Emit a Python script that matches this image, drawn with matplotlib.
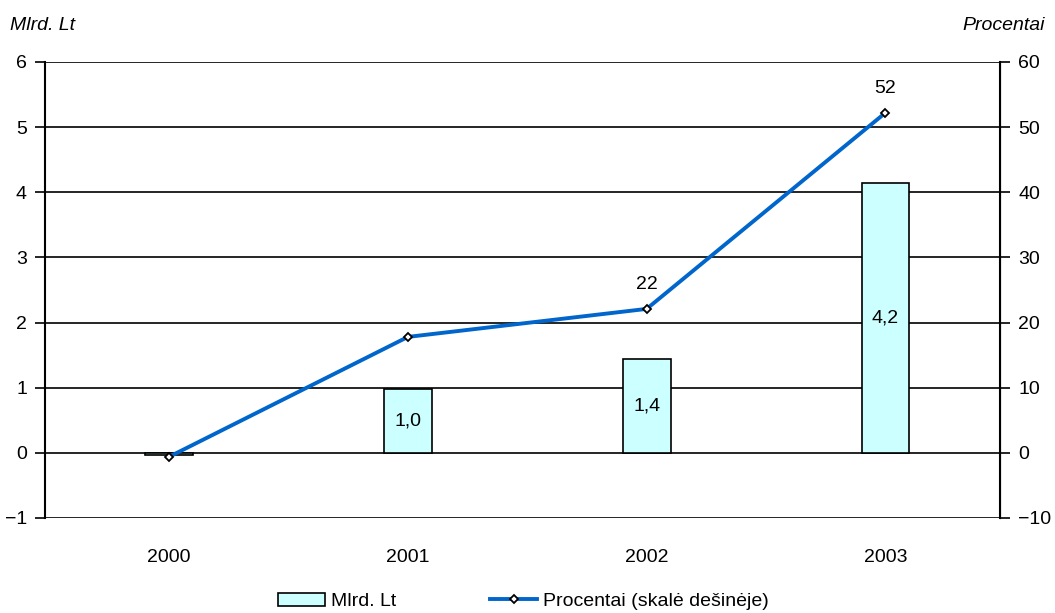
import matplotlib
matplotlib.use("Agg")
import matplotlib.pyplot as plt
from matplotlib.lines import Line2D
from matplotlib.patches import Patch

plt.rcParams['font.family'] = ['Liberation Sans', 'DejaVu Sans']
plt.rcParams['axes.unicode_minus'] = True

years = ["2000", "2001", "2002", "2003"]
mlrd_lt = [-0.03, 0.98, 1.44, 4.15]
bar_labels = ["", "1,0", "1,4", "4,2"]
percent = [-0.6, 17.8, 22.1, 52.2]
line_labels = ["", "", "22", "52"]
left_ticks = [-1, 0, 1, 2, 3, 4, 5, 6]
right_ticks = [-10, 0, 10, 20, 30, 40, 50, 60]

FS = 14

fig = plt.figure(figsize=(10.55, 6.13), dpi=100)
ax = fig.add_axes([45/1055, 1-518/613, (1000-45)/1055, (518-62)/613])
x = list(range(len(years)))

for t in left_ticks:
    ax.axhline(t, color='black', lw=1.2, zorder=1)

ax.bar(x, mlrd_lt, width=0.2, color='#CCFFFF', edgecolor='black', linewidth=1.2, zorder=2)
for xi, v, lab in zip(x, mlrd_lt, bar_labels):
    if lab:
        ax.text(xi, v/2, lab, ha='center', va='center', fontsize=FS, zorder=5)

ax.set_xlim(-0.52, 3.48)
ax.set_ylim(-1, 6)
ax.set_yticks(left_ticks)
ax.set_yticklabels([str(t).replace('-', '\u2212') for t in left_ticks], fontsize=FS)
ax.set_xticks(x)
ax.set_xticklabels(years, fontsize=FS)
ax.tick_params(axis='x', length=0, pad=22)
ax.tick_params(axis='y', direction='out', length=7, width=1.2, pad=6)
for s in ['top', 'bottom']:
    ax.spines[s].set_visible(False)
ax.spines['left'].set_linewidth(1.5)

ax2 = ax.twinx()
ax2.set_ylim(-10, 60)
ax2.set_yticks(right_ticks)
ax2.set_yticklabels([str(t).replace('-', '\u2212') for t in right_ticks], fontsize=FS)
ax2.tick_params(axis='y', direction='out', length=7, width=1.2, pad=6)
for s in ['top', 'bottom', 'left']:
    ax2.spines[s].set_visible(False)
ax2.spines['right'].set_linewidth(1.5)
ax2.plot(x, percent, color='#0066CC', lw=2.8, marker='D', markersize=4.5,
         markerfacecolor='white', markeredgecolor='black', markeredgewidth=1.3, zorder=4)
for xi, v, lab in zip(x, percent, line_labels):
    if lab:
        ax2.text(xi, v + 2.4, lab, ha='center', va='bottom', fontsize=FS)

fig.text(10/1055, 1-25/613, "Mlrd. Lt", fontsize=FS, style='italic', ha='left', va='center')
fig.text(1045/1055, 1-25/613, "Procentai", fontsize=FS, style='italic', ha='right', va='center')

handles = [Patch(facecolor='#CCFFFF', edgecolor='black', linewidth=1.2),
           Line2D([0], [0], color='#0066CC', lw=2.8, marker='D', markersize=4.5,
                  markerfacecolor='white', markeredgecolor='black', markeredgewidth=1.3)]
fig.legend(handles, ["Mlrd. Lt", "Procentai (skalė dešinėje)"], loc='lower center',
           bbox_to_anchor=(0.496, -0.024), ncol=2, frameon=False, fontsize=FS,
           handlelength=2.4, handletextpad=0.3, columnspacing=4.85)

fig.savefig("out.png", dpi=100)
